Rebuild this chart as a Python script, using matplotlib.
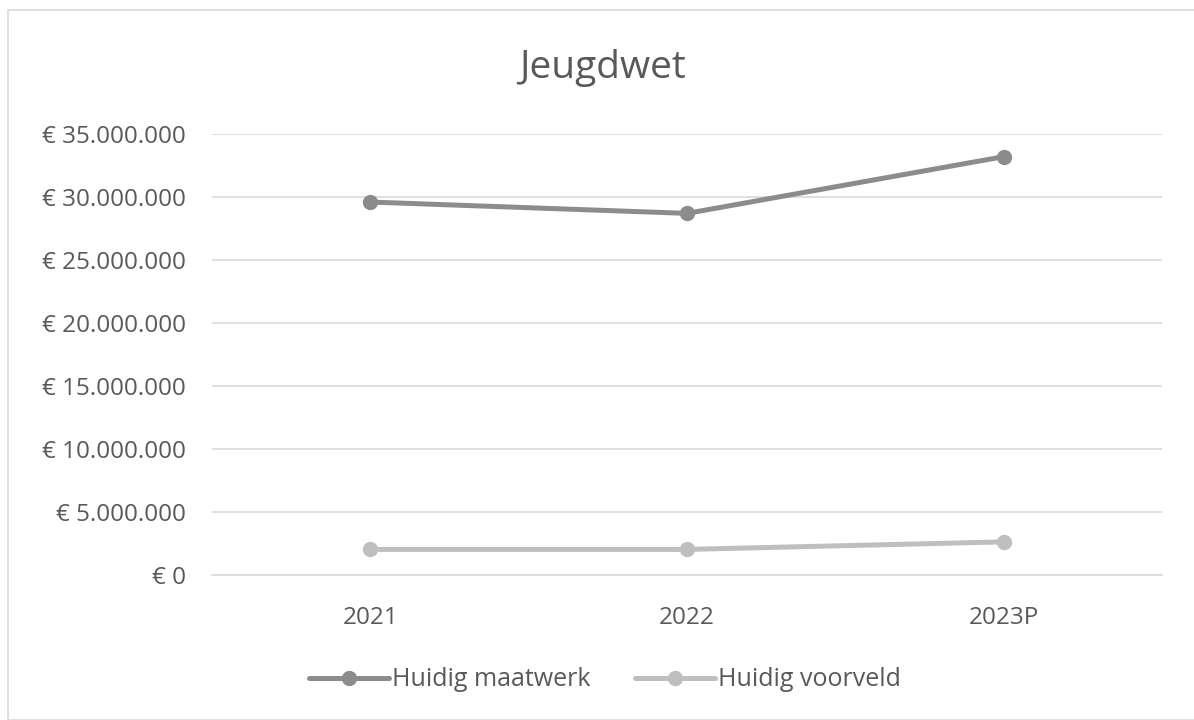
import matplotlib
matplotlib.use("Agg")
import matplotlib.pyplot as plt
from matplotlib.patches import Rectangle
from matplotlib.ticker import FuncFormatter

years = ["2021", "2022", "2023P"]
maatwerk = [29600000, 28700000, 33200000]
voorveld = [2030000, 2030000, 2630000]
y_ticks = [0, 5000000, 10000000, 15000000, 20000000, 25000000, 30000000, 35000000]

plt.rcParams["font.family"] = ["Open Sans", "DejaVu Sans"]
text_color = "#595959"

fig = plt.figure(figsize=(11.94, 7.2), dpi=100)
W, H = 1194, 720
ax = fig.add_axes([212 / W, 1 - 575 / H, (1162 - 212) / W, (575 - 134) / H])

fig.patches.append(Rectangle((8 / W, 0), 1, 1 - 10 / H, transform=fig.transFigure,
                             fill=False, edgecolor="#d9d9d9", linewidth=1.2))

x = range(len(years))
ax.plot(x, maatwerk, color="#8c8c8c", linewidth=3.6, marker="o", markersize=10,
        label="Huidig maatwerk", solid_capstyle="round")
ax.plot(x, voorveld, color="#bfbfbf", linewidth=3.6, marker="o", markersize=10,
        label="Huidig voorveld", solid_capstyle="round")

ax.set_xlim(-0.5, 2.5)
ax.set_ylim(0, 35000000)
ax.set_yticks(y_ticks)
ax.yaxis.set_major_formatter(FuncFormatter(
    lambda v, p: "€ " + f"{int(v):,}".replace(",", ".")))
ax.set_xticks(list(x))
ax.set_xticklabels(years)
ax.grid(axis="y", color="#d9d9d9", linewidth=1.2)
ax.set_axisbelow(True)
for s in ["top", "right", "left"]:
    ax.spines[s].set_visible(False)
ax.spines["bottom"].set_color("#d9d9d9")
ax.spines["bottom"].set_linewidth(1.2)
ax.tick_params(length=0, colors=text_color)
ax.tick_params(axis="y", pad=19, labelsize=17.5)
ax.tick_params(axis="x", pad=22, labelsize=17.5)

fig.text(603 / W, 1 - 68 / H, "Jeugdwet", ha="center", va="center",
         fontsize=28, color=text_color)

leg = fig.legend(loc="center", bbox_to_anchor=(605 / W, 1 - 680 / H), ncol=2,
                 frameon=False, fontsize=18, handlelength=3.2, handletextpad=0.1,
                 columnspacing=1.8)
for t in leg.get_texts():
    t.set_color(text_color)

fig.savefig("out.png", dpi=100)
